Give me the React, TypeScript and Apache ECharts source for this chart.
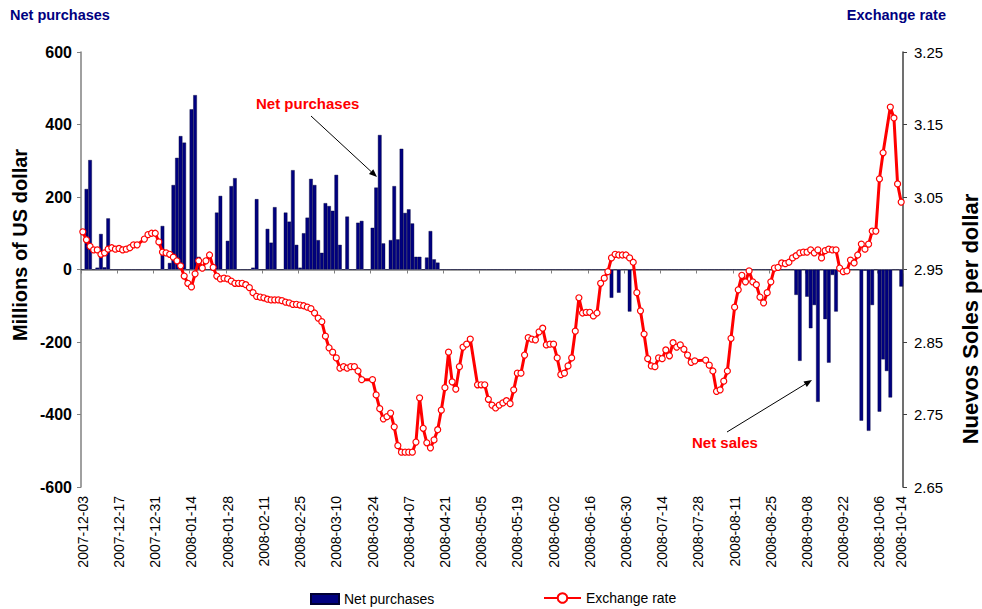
import React, { useEffect, useRef } from 'react';
import * as echarts from 'echarts';

const FONT = '"Liberation Sans", Arial, Helvetica, sans-serif';

// Business days from 2007-12-03 to 2008-10-14 (category axis)
function weekdays(start: string, end: string): string[] {
  const out: string[] = [];
  const d = new Date(start + 'T00:00:00Z');
  const e = new Date(end + 'T00:00:00Z');
  while (d.getTime() <= e.getTime()) {
    const w = d.getUTCDay();
    if (w !== 0 && w !== 6) out.push(d.toISOString().slice(0, 10));
    d.setUTCDate(d.getUTCDate() + 1);
  }
  return out;
}
const dates: string[] = weekdays('2007-12-03', '2008-10-14');

// Net purchases (millions of US dollar), one value per business day
const netPurchases: number[] = [
  0, 222, 302, 0, 5, 98, 6, 141, 0, 0,
  0, 0, 0, 0, 0, 0, 0, 0, 0, 0,
  0, 0, 120, 0, 18, 233, 308, 368, 350, 0,
  442, 481, 35, 0, 0, 0, 0, 157, 203, 0,
  79, 230, 252, 0, 0, 0, 0, 5, 194, 0,
  0, 112, 74, 172, 0, 0, 157, 132, 274, 68,
  5, 100, 143, 250, 233, 81, 46, 183, 175, 162,
  261, 68, 0, 146, 0, 0, 129, 134, 0, 0,
  115, 226, 371, 72, 0, 81, 230, 83, 333, 156,
  166, 127, 35, 35, 0, 33, 106, 28, 19, 0,
  0, 0, 0, 0, 0, 0, 0, 0, 0, 0,
  0, 0, 0, 0, 0, 0, 0, 0, 0, 0,
  0, 0, 0, 0, 0, 0, 0, 0, 0, 0,
  0, 0, 0, 0, 0, 0, 0, 0, 0, 0,
  0, 0, 0, 0, 0, 0, -78, 0, -64, 0,
  0, -116, 0, 0, 0, 0, 0, 0, 0, 0,
  0, 0, 0, 0, 0, 0, 0, 0, 0, 0,
  0, 0, 0, 0, 0, 0, 0, 0, 0, 0,
  0, 0, 0, 0, 0, 0, 0, 0, 0, 0,
  0, 0, 0, 0, 0, 0, 0, -70, -252, 0,
  -75, -162, -98, -365, 0, -137, -257, -15, -116, 0,
  0, 0, 0, 0, 0, -417, -3, -445, -98, 0,
  -392, -248, -280, -353, 0, 0, -47,
];

// Exchange rate (Nuevos Soles per dollar); null = no quote
const exchangeRate: (number | null)[] = [
  3.002, 2.991, 2.982, 2.977, 2.977, 2.971, 2.973, 2.978, 2.980, 2.978,
  2.979, 2.977, 2.978, 2.980, 2.984, 2.984, null, 2.992, 2.998, 3.000,
  3.000, 2.988, 2.974, 2.973, 2.971, 2.967, 2.962, 2.955, 2.941, 2.931,
  2.926, 2.944, 2.962, 2.952, 2.962, 2.970, 2.953, 2.941, 2.937, 2.938,
  2.937, 2.934, 2.931, 2.931, 2.931, 2.929, 2.925, 2.918, 2.913, 2.912,
  2.911, 2.909, 2.908, 2.908, 2.908, 2.907, 2.905, 2.904, 2.902, 2.902,
  2.901, 2.900, 2.898, 2.896, 2.890, 2.883, 2.878, 2.858, 2.842, 2.836,
  2.828, 2.814, 2.816, 2.814, 2.816, 2.816, 2.810, 2.798, null, null,
  2.798, 2.777, 2.758, 2.744, 2.747, 2.752, 2.733, 2.707, 2.698, 2.698,
  2.698, 2.698, 2.712, 2.773, 2.731, 2.711, 2.704, 2.715, 2.729, 2.756,
  2.787, 2.836, 2.795, 2.785, 2.816, 2.843, 2.847, 2.854, null, 2.791,
  2.791, 2.791, 2.771, 2.763, 2.759, 2.763, 2.766, 2.769, 2.765, 2.784,
  2.807, 2.807, 2.832, 2.856, 2.854, 2.853, 2.864, 2.869, 2.846, 2.847,
  2.847, 2.828, 2.805, 2.807, 2.817, 2.828, 2.865, 2.911, 2.890, 2.891,
  2.891, 2.886, 2.890, 2.931, 2.938, 2.947, 2.966, 2.971, 2.970, 2.970,
  2.970, 2.966, 2.960, 2.918, 2.893, 2.861, 2.827, 2.817, 2.816, 2.828,
  2.827, 2.839, 2.831, 2.849, 2.843, 2.846, 2.840, 2.832, 2.822, 2.824,
  null, null, 2.825, 2.818, 2.810, 2.782, 2.784, 2.796, 2.810, 2.855,
  2.898, 2.922, 2.942, 2.933, 2.948, 2.933, 2.929, 2.912, 2.904, 2.918,
  2.933, 2.952, 2.953, 2.959, 2.958, 2.960, 2.966, 2.969, 2.973, 2.974,
  2.974, 2.977, 2.973, 2.977, 2.966, 2.976, 2.978, 2.977, 2.977, 2.952,
  2.947, 2.948, 2.963, 2.959, 2.970, 2.985, 2.978, 2.985, 3.003, 3.003,
  3.075, 3.111, null, 3.174, 3.159, 3.068, 3.043,
];

const leftTicks = { min: -600, max: 600, step: 200 };
const rightTicks = { min: 2.65, max: 3.25, step: 0.1 };

function arrow(x1: number, y1: number, x2: number, y2: number): any[] {
  const a = Math.atan2(y2 - y1, x2 - x1);
  const L = 8;
  const W = 3.2;
  const bx = x2 - L * Math.cos(a);
  const by = y2 - L * Math.sin(a);
  return [
    { type: 'line', shape: { x1, y1, x2: bx, y2: by }, style: { stroke: '#000', lineWidth: 1 }, silent: true },
    {
      type: 'polygon',
      shape: { points: [[x2, y2], [bx - W * Math.sin(a), by + W * Math.cos(a)], [bx + W * Math.sin(a), by - W * Math.cos(a)]] },
      style: { fill: '#000' },
      silent: true,
    },
  ];
}

export default function App() {
  const ref = useRef<HTMLDivElement>(null);
  useEffect(() => {
    if (!ref.current) return;
    const chart = echarts.init(ref.current, undefined, { renderer: 'svg' });
    const option: any = {
      animation: false,
      backgroundColor: '#ffffff',
      textStyle: { fontFamily: FONT },
      grid: { left: 81, right: 79, top: 52, bottom: 122, containLabel: false },
      legend: [
        {
          data: [{ name: 'Net purchases', icon: 'rect' }],
          left: 310, top: 592, padding: 0, itemWidth: 28, itemHeight: 10, itemGap: 5,
          textStyle: { fontSize: 14, color: '#000', fontFamily: FONT },
          selectedMode: false,
        },
        {
          data: ['Exchange rate'],
          left: 543, top: 591, padding: 0, itemWidth: 37, itemHeight: 12,
          textStyle: { fontSize: 14, color: '#000', fontFamily: FONT },
          selectedMode: false,
        },
      ],
      xAxis: [
        {
          type: 'category', data: dates, position: 'bottom', boundaryGap: true,
          axisLine: { show: false, onZero: false },
          axisTick: { show: false },
          axisLabel: {
            rotate: 90, fontSize: 14, color: '#000', margin: 9, fontFamily: FONT,
            interval: (i: number) => i % 10 === 0 || i === dates.length - 1,
          },
          splitLine: { show: false },
        },
        {
          type: 'category', data: dates, position: 'top', boundaryGap: true,
          axisLine: { show: true, onZero: true, onZeroAxisIndex: 0, lineStyle: { color: '#808080', width: 1.5 } },
          axisTick: { show: true, inside: true, interval: 9, length: 4, lineStyle: { color: '#808080', width: 1 } },
          axisLabel: { show: false },
          splitLine: { show: false },
        },
      ],
      yAxis: [
        {
          type: 'value', position: 'left', min: leftTicks.min, max: leftTicks.max, interval: leftTicks.step,
          axisLine: { show: true, lineStyle: { color: '#808080', width: 1.5 } },
          axisTick: { show: true, length: 4, lineStyle: { color: '#808080' } },
          axisLabel: { fontSize: 16, fontWeight: 'bold', color: '#000', margin: 9, fontFamily: FONT },
          splitLine: { show: false },
        },
        {
          type: 'value', position: 'right', min: rightTicks.min, max: rightTicks.max, interval: rightTicks.step,
          axisLine: { show: true, lineStyle: { color: '#404040', width: 1.5 } },
          axisTick: { show: true, length: 4, lineStyle: { color: '#404040' } },
          axisLabel: { fontSize: 15, color: '#000', margin: 11, fontFamily: FONT, formatter: (v: number) => v.toFixed(2) },
          splitLine: { show: false },
        },
      ],
      series: [
        {
          name: 'Net purchases', type: 'bar', xAxisIndex: 0, yAxisIndex: 0,
          data: netPurchases, barCategoryGap: '0%',
          itemStyle: { color: '#000080', borderColor: '#000033', borderWidth: 0.4 },
          emphasis: { disabled: true },
        },
        {
          name: 'Exchange rate', type: 'line', xAxisIndex: 0, yAxisIndex: 1,
          data: exchangeRate, connectNulls: true, showAllSymbol: true,
          symbol: 'circle', symbolSize: 6,
          lineStyle: { color: '#FF0000', width: 3 },
          itemStyle: { color: '#ffffff', borderColor: '#FF0000', borderWidth: 1.2 },
          emphasis: { disabled: true },
          z: 3,
        },
      ],
      graphic: [
        { type: 'text', x: 10, y: 15, style: { text: 'Net purchases', fill: '#000080', font: `bold 14.5px ${FONT}`, align: 'left', verticalAlign: 'middle' } },
        { type: 'text', x: 946, y: 15, style: { text: 'Exchange rate', fill: '#000080', font: `bold 14.5px ${FONT}`, align: 'right', verticalAlign: 'middle' } },
        { type: 'text', x: 20, y: 245, rotation: Math.PI / 2, style: { text: 'Millions of US dollar', fill: '#000', font: `bold 20px ${FONT}`, align: 'center', verticalAlign: 'middle' } },
        { type: 'text', x: 970, y: 319, rotation: Math.PI / 2, style: { text: 'Nuevos Soles per dollar', fill: '#000', font: `bold 22px ${FONT}`, align: 'center', verticalAlign: 'middle' } },
        { type: 'text', x: 256, y: 103, style: { text: 'Net purchases', fill: '#FF0000', font: `bold 15px ${FONT}`, align: 'left', verticalAlign: 'middle' } },
        { type: 'text', x: 692, y: 442, style: { text: 'Net sales', fill: '#FF0000', font: `bold 15px ${FONT}`, align: 'left', verticalAlign: 'middle' } },
        ...arrow(311, 116, 377, 177),
        ...arrow(727, 432, 812, 380),
      ],
    };
    chart.setOption(option);
    return () => chart.dispose();
  }, []);
  return <div ref={ref} style={{ position: 'fixed', left: 0, top: 0, width: 982, height: 609, background: '#fff' }} />;
}
